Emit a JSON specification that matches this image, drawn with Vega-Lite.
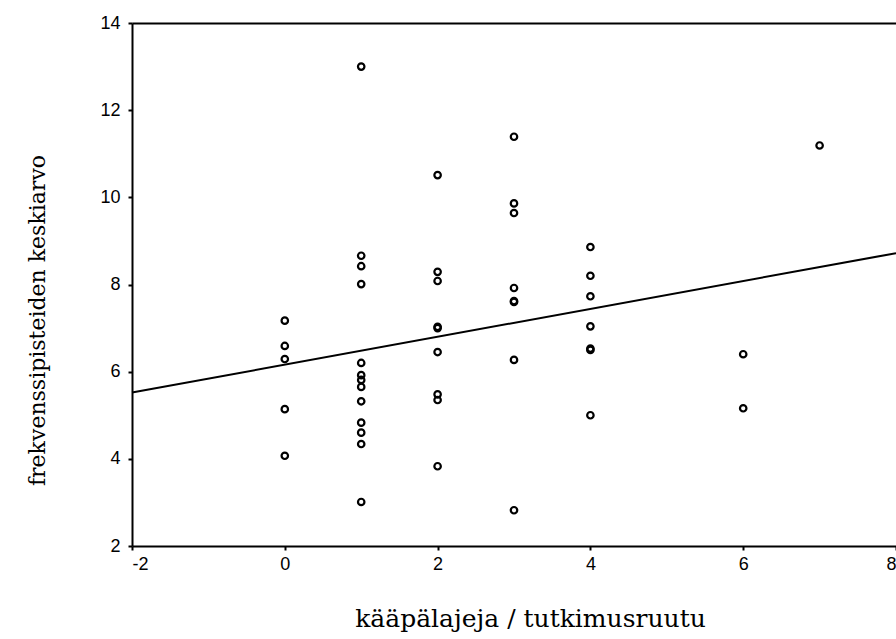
{
  "$schema": "https://vega.github.io/schema/vega-lite/v6.json",
  "width": 764,
  "height": 523,
  "autosize": "none",
  "padding": {"left": 132, "top": 23, "right": 0, "bottom": 93},
  "background": "white",
  "config": {
    "view": {"stroke": null},
    "axis": {
      "grid": false,
      "domainColor": "black",
      "domainWidth": 2,
      "tickColor": "black",
      "tickWidth": 2,
      "tickSize": 4,
      "labelFont": "Liberation Sans",
      "labelFontSize": 18,
      "labelColor": "black",
      "titleColor": "black",
      "titleFont": "DejaVu Serif",
      "titleFontWeight": "normal"
    }
  },
  "datasets": {
    "pts": [
      {"x": 0, "y": 7.17}, {"x": 0, "y": 6.59}, {"x": 0, "y": 6.29}, {"x": 0, "y": 5.14}, {"x": 0, "y": 4.07},
      {"x": 1, "y": 13.0}, {"x": 1, "y": 8.66}, {"x": 1, "y": 8.42}, {"x": 1, "y": 8.01}, {"x": 1, "y": 6.2},
      {"x": 1, "y": 5.92}, {"x": 1, "y": 5.81}, {"x": 1, "y": 5.65}, {"x": 1, "y": 5.32}, {"x": 1, "y": 4.83},
      {"x": 1, "y": 4.6}, {"x": 1, "y": 4.34}, {"x": 1, "y": 3.01},
      {"x": 2, "y": 10.51}, {"x": 2, "y": 8.29}, {"x": 2, "y": 8.08}, {"x": 2, "y": 7.0}, {"x": 2, "y": 7.03},
      {"x": 2, "y": 6.45}, {"x": 2, "y": 5.48}, {"x": 2, "y": 5.35}, {"x": 2, "y": 3.83},
      {"x": 3, "y": 11.39}, {"x": 3, "y": 9.86}, {"x": 3, "y": 9.64}, {"x": 3, "y": 7.92}, {"x": 3, "y": 7.6},
      {"x": 3, "y": 7.62}, {"x": 3, "y": 6.27}, {"x": 3, "y": 2.82},
      {"x": 4, "y": 8.86}, {"x": 4, "y": 8.2}, {"x": 4, "y": 7.73}, {"x": 4, "y": 7.04}, {"x": 4, "y": 6.5},
      {"x": 4, "y": 6.53}, {"x": 4, "y": 5.0},
      {"x": 6, "y": 6.4}, {"x": 6, "y": 5.16},
      {"x": 7, "y": 11.19}
    ],
    "fit": [
      {"x": -2, "y": 5.52},
      {"x": 8, "y": 8.72}
    ]
  },
  "resolve": {"axis": {"x": "independent"}},
  "layer": [
    {
      "data": {"name": "pts"},
      "mark": {"type": "point", "shape": "circle", "filled": false, "color": "black", "size": 42, "strokeWidth": 2.2, "opacity": 1},
      "encoding": {
        "x": {
          "field": "x", "type": "quantitative",
          "scale": {"domain": [-2, 8], "nice": false, "zero": false},
          "axis": {
            "values": [-2, 0, 2, 4, 6, 8],
            "labelExpr": "replace(datum.label, '\u2212', '-')",
            "labelPadding": 5,
            "labelFontSize": 18,
            "title": "kääpälajeja / tutkimusruutu",
            "titleFontSize": 25,
            "titleX": 398,
            "titleY": 80,
            "titleBaseline": "alphabetic",
            "titleAnchor": "middle"
          }
        },
        "y": {
          "field": "y", "type": "quantitative",
          "scale": {"domain": [2, 14], "nice": false, "zero": false},
          "axis": {
            "values": [2, 4, 6, 8, 10, 12, 14],
            "labelPadding": 8,
            "labelFontSize": 18,
            "title": "frekvenssipisteiden keskiarvo",
            "titleFontSize": 22,
            "titleX": -88,
            "titleY": 297,
            "titleBaseline": "alphabetic",
            "titleAnchor": "middle"
          }
        }
      }
    },
    {
      "data": {"name": "fit"},
      "mark": {"type": "line", "color": "black", "strokeWidth": 2},
      "encoding": {
        "x": {
          "field": "x", "type": "quantitative",
          "axis": {"orient": "top", "labels": false, "ticks": false, "title": null}
        },
        "y": {"field": "y", "type": "quantitative"}
      }
    }
  ]
}
